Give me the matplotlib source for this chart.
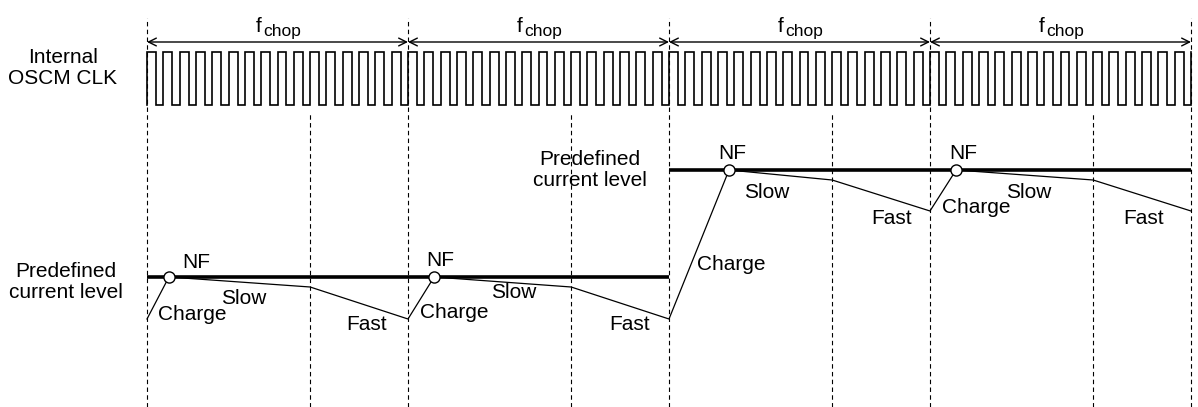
import matplotlib
matplotlib.use("Agg")
import matplotlib.pyplot as plt
import numpy as np

plt.rcParams['font.family'] = ['Liberation Sans', 'DejaVu Sans']

# time axis in chop periods, current in arbitrary units
n_chop = 4
clk_per_chop = 16
clk_duty = 0.55
clk_low, clk_high = 3.02, 3.55
mid_split = 10 / 16          # slow -> fast switch point inside each chop

level_low = 1.30
level_high = 2.37
level_x = [[0, 2], [2, 4]]
level_y = [level_low, level_high]

# current waveform (time, current)
cur_t = [0.0, 0.084, 0.625, 1.0, 1.10, 1.625, 2.0, 2.23, 2.625, 3.0, 3.10, 3.625, 4.0]
cur_i = [0.88, 1.30, 1.20, 0.88, 1.30, 1.20, 0.88, 2.37, 2.27, 1.96, 2.37, 2.27, 1.96]
nf_t = [0.084, 1.10, 2.23, 3.10]
nf_i = [1.30, 1.30, 2.37, 2.37]

# label spots
nf_lbl = [(0.188, 1.45), (1.123, 1.46), (2.241, 2.54), (3.126, 2.54)]
charge_lbl = [(0.172, 0.92), (1.176, 0.94), (2.238, 1.42), (3.176, 2.00)]
slow_lbl = [(0.372, 1.09), (1.406, 1.14), (2.375, 2.15), (3.379, 2.15)]
fast_lbl = [(0.843, 0.82), (1.847, 0.82), (2.851, 1.89), (3.820, 1.89)]

FS = 15

fig = plt.figure(figsize=(11.98, 4.07), dpi=100)
ax = fig.add_axes([0, 0, 1, 1])
ax.set_xlim(-147 / 261, (1198 - 147) / 261)
ax.set_ylim(0, 4.07)
ax.axis('off')

# dashed guide lines
for k in range(n_chop + 1):
    ax.plot([k, k], [0, 3.89], color='black', lw=0.8, ls=(0, (4, 3)))
for k in range(n_chop):
    ax.plot([k + mid_split, k + mid_split], [0, 2.95], color='black', lw=0.8, ls=(0, (4, 3)))

# clock
xs, ys = [], []
n_clk = n_chop * clk_per_chop
for k in range(n_clk):
    t0 = k / clk_per_chop
    t1 = (k + clk_duty) / clk_per_chop
    xs += [t0, t0, t1, t1]
    ys += [clk_low, clk_high, clk_high, clk_low]
xs += [n_chop, n_chop]
ys += [clk_low, clk_high]
ax.plot(xs, ys, color='black', lw=1.2, solid_joinstyle='miter')

# chop arrows and labels (f + subscript drawn as two texts)
for k in range(n_chop):
    ax.annotate('', xy=(k, 3.65), xytext=(k + 1, 3.65),
                arrowprops=dict(arrowstyle='<->', color='black', lw=1, shrinkA=0, shrinkB=0,
                                mutation_scale=14))
    ax.annotate('f', xy=(k + 0.5, 3.75), xytext=(-15.5, 0), textcoords='offset points',
                ha='left', va='baseline', fontsize=FS)
    ax.annotate('chop', xy=(k + 0.5, 3.75), xytext=(-10.5, -3), textcoords='offset points',
                ha='left', va='baseline', fontsize=12.5)

ax.text(-0.322, 3.39, 'Internal\nOSCM CLK', ha='center', va='center', fontsize=FS, linespacing=1.1)
ax.text(-0.31, 1.25, 'Predefined\ncurrent level', ha='center', va='center', fontsize=FS, linespacing=1.1)
ax.text(1.697, 2.37, 'Predefined\ncurrent level', ha='center', va='center', fontsize=FS, linespacing=1.1)

# predefined levels
for lx, ly in zip(level_x, level_y):
    ax.plot(lx, [ly, ly], color='black', lw=2.6, solid_capstyle='butt')

# current waveform
ax.plot(cur_t, cur_i, color='black', lw=0.9)
ax.plot(nf_t, nf_i, 'o', ms=8, mfc='white', mec='black', mew=1, zorder=5)

for (x, y) in nf_lbl:
    ax.text(x, y, 'NF', ha='center', va='center', fontsize=FS)
for (x, y) in charge_lbl:
    ax.text(x, y, 'Charge', ha='center', va='center', fontsize=FS)
for (x, y) in slow_lbl:
    ax.text(x, y, 'Slow', ha='center', va='center', fontsize=FS)
for (x, y) in fast_lbl:
    ax.text(x, y, 'Fast', ha='center', va='center', fontsize=FS)

fig.savefig('out.png', dpi=100)
